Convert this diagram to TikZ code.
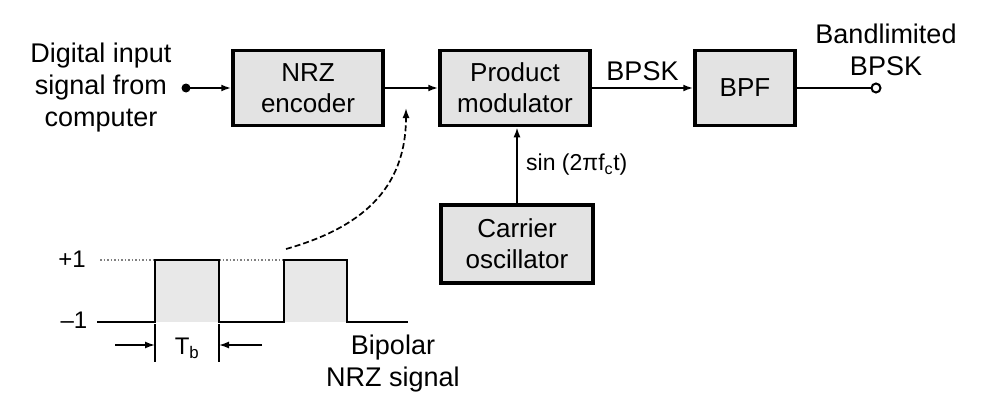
\documentclass[tikz,border=0pt]{standalone}
\usepackage{fontspec}
\setmainfont{Liberation Sans}
\usetikzlibrary{arrows.meta}
\begin{document}
\begin{tikzpicture}[x=1pt,y=-1pt,
  block/.style={draw, line width=3.5pt, fill=gray!22, minimum width=150pt, minimum height=75pt, align=center, inner sep=2pt, font=\fontsize{26}{31}\selectfont},
  conn/.style={line width=2pt, -{Latex[length=10pt,width=7pt]}},
  lbl/.style={font=\fontsize{27}{32}\selectfont, align=center, inner sep=0pt},
  wave/.style={line width=2.8pt},
]
\useasboundingbox (0,0) rectangle (985,396);
% blocks
\node[block] (nrz) at (308,88) {NRZ\\encoder};
\node[block] (prod) at (515,88) {Product\\modulator};
\node[block, minimum width=100pt] (bpf) at (745,88) {BPF};
\node[block, minimum width=152pt, minimum height=78pt] (osc) at (517,244) {Carrier\\oscillator};
% input / output
\node[lbl] (inlbl) at (101,88) {Digital input\\signal from\\computer};
\fill (186,88) circle (4.5pt) coordinate (indot);
\coordinate (outend) at (871,88);
\draw[line width=2pt] (876,88) circle (4.5pt) coordinate (outdot);
\node[lbl] (outlbl) at (886,50) {Bandlimited\\BPSK};
% connectors
\draw[conn] (indot) -- (nrz.west);
\draw[conn] (nrz.east) -- (prod.west);
\draw[conn] (prod.east) -- node[lbl, above=6pt] (bpsk) {BPSK} (bpf.west);
\draw[line width=2pt] (bpf.east) -- (outend);
\draw[conn] (osc.north) -- (prod.south -| osc.north);
\node[lbl, font=\fontsize{23}{27}\selectfont, anchor=west] (sinlbl) at (526,165) {sin (2πf\textsubscript{c}t)};
% waveform
\draw[gray, line width=1.5pt, dotted] (100,260) -- (155,260);
\draw[gray, line width=1.5pt, dotted] (219,260) -- (284,260);
\fill[gray!18] (155,260) rectangle (219,322);
\fill[gray!18] (284,260) rectangle (347,322);
\draw[wave] (97,322) -- (155,322) -- (155,260) -- (219,260) -- (219,322) -- (284,322) -- (284,260) -- (347,260) -- (347,322) -- (408,322);
\node[lbl, font=\fontsize{24}{28}\selectfont] (plus) at (72,259) {+1};
\node[lbl, font=\fontsize{24}{28}\selectfont] (minus) at (74,320) {–1};
% Tb dimension
\draw[line width=1.5pt] (155,324) -- (155,362);
\draw[line width=1.5pt] (219,324) -- (219,362);
\coordinate (tl) at (155,345);
\coordinate (tr) at (219,345);
\coordinate (tls) at (115,345);
\coordinate (trs) at (262,345);
\draw[conn, line width=1.6pt] (tls) -- (tl);
\draw[conn, line width=1.6pt] (trs) -- (tr);
\node[lbl, font=\fontsize{24}{28}\selectfont] (tb) at (187,348) {T\textsubscript{b}};
\node[lbl] (biplbl) at (393,364) {Bipolar\\NRZ signal};
% curved dashed arrow
\coordinate (cs) at (286,249);
\coordinate (ce) at (406,108);
\draw[line width=1.7pt, dash pattern=on 6pt off 3pt, -{Latex[length=10pt,width=7pt]}] (cs) .. controls (360,228) and (406,190) .. (ce);
\end{tikzpicture}
\end{document}
